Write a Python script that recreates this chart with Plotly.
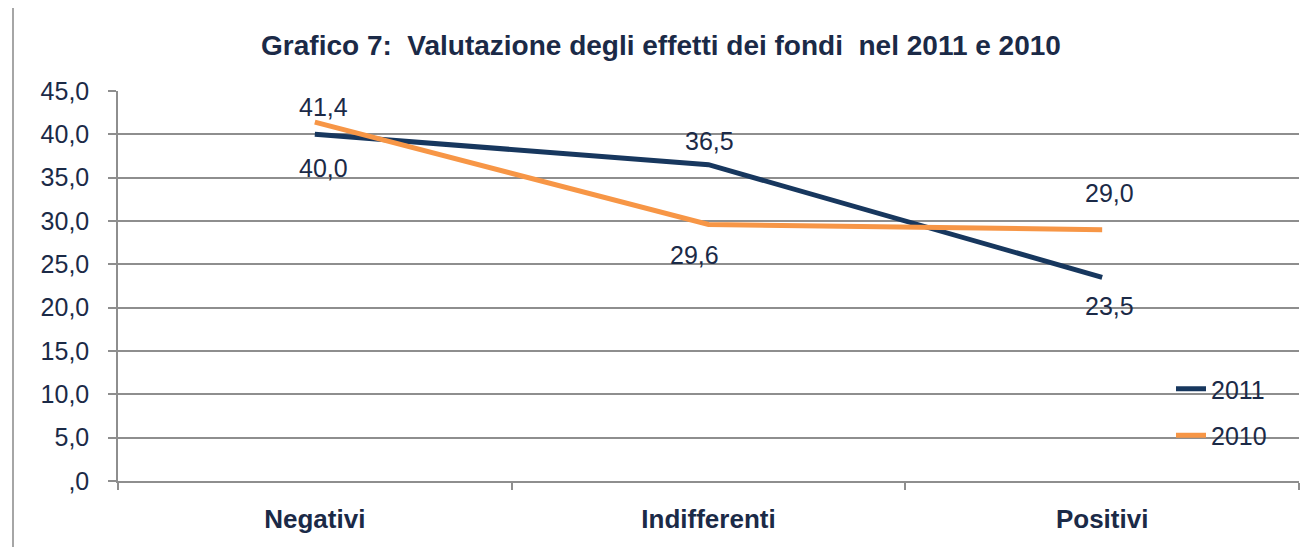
import plotly.graph_objects as go

# ---- data ----
CATEGORIES = ["Negativi", "Indifferenti", "Positivi"]
SERIES_NAMES = ["2011", "2010"]
VALUES_2011 = [40.0, 36.5, 23.5]
VALUES_2010 = [41.4, 29.6, 29.0]
Y_TICK_VALUES = [0, 5, 10, 15, 20, 25, 30, 35, 40, 45]
Y_TICK_LABELS = [",0", "5,0", "10,0", "15,0", "20,0", "25,0", "30,0", "35,0", "40,0", "45,0"]
TITLE = "Grafico 7:  Valutazione degli effetti dei fondi  nel 2011 e 2010"

# ---- style ----
NAVY = "#17375E"
ORANGE = "#F79646"
TEXT = "#1B2A47"
GRID = "#8E8E8E"
FONT = "Liberation Sans, Arial, sans-serif"
FS = 25

# label offsets (px) per series/point
SHIFT_2011 = [(9, -34), (1, 24), (7, -29)]
SHIFT_2010 = [(9, 15), (-14, -31), (7, 37)]

OFF = 8  # page body margin


def fmt(v):
    return f"{v:.1f}".replace(".", ",")


fig = go.Figure()
fig.add_trace(go.Scatter(
    x=CATEGORIES, y=VALUES_2011, name=SERIES_NAMES[0], mode="lines",
    line=dict(color=NAVY, width=5), legendgroup="a",
))
fig.add_trace(go.Scatter(
    x=CATEGORIES, y=VALUES_2010, name=SERIES_NAMES[1], mode="lines",
    line=dict(color=ORANGE, width=5), legendgroup="b",
))

annotations = []
for vals, shifts in ((VALUES_2011, SHIFT_2011), (VALUES_2010, SHIFT_2010)):
    for c, v, (dx, dy) in zip(CATEGORIES, vals, shifts):
        annotations.append(dict(
            x=c, y=v, xref="x", yref="y", text=fmt(v), showarrow=False,
            xshift=dx, yshift=dy, font=dict(family=FONT, size=FS, color=TEXT),
            xanchor="center", yanchor="middle",
        ))

W, H = 1312 - OFF, 547 - OFF
L, R, T, B = 118 - OFF, 13, 91 - OFF, 66
pw, ph = W - L - R, H - T - B


def px_x(x):
    return (x - OFF - L) / pw


def px_y(y):
    return (H - B - (y - OFF)) / ph


fig.update_layout(
    width=W, height=H,
    margin=dict(l=L, r=R, t=T, b=B, autoexpand=False),
    paper_bgcolor="white", plot_bgcolor="white",
    font=dict(family=FONT, size=FS, color=TEXT),
    title=dict(
        text=TITLE, x=(661 - OFF) / W, xref="container", xanchor="center",
        y=1 - (45 - OFF) / H, yref="container", yanchor="middle",
        font=dict(family=FONT, size=28, color=TEXT, weight="bold"),
    ),
    showlegend=True,
    legend=dict(
        x=px_x(1171), xanchor="left", y=px_y(366), yanchor="top",
        bgcolor="rgba(0,0,0,0)", font=dict(family=FONT, size=FS, color=TEXT),
        traceorder="grouped", tracegroupgap=11, itemwidth=30,
    ),
    annotations=annotations,
    shapes=[
        dict(type="line", xref="paper", yref="paper",
             x0=px_x(13), x1=px_x(13), y0=-0.5, y1=1.5,
             line=dict(color="#A6A6A6", width=2)),
    ],
)

fig.update_xaxes(
    type="category", range=[-0.5, 2.5], tickson="boundaries",
    showgrid=False, showline=True, linecolor=GRID, linewidth=1.5,
    ticks="outside", ticklen=7, tickcolor=GRID, tickwidth=1.5,
    tickfont=dict(family=FONT, size=26, color=TEXT, weight="bold"),
    ticklabelstandoff=14, zeroline=False,
)
fig.update_yaxes(
    range=[0, 45], tickvals=Y_TICK_VALUES, ticktext=Y_TICK_LABELS,
    showgrid=True, gridcolor=GRID, gridwidth=1.5,
    showline=True, linecolor=GRID, linewidth=1.5,
    ticks="outside", ticklen=8, tickcolor=GRID, tickwidth=1.5,
    tickfont=dict(family=FONT, size=FS, color=TEXT),
    ticklabelstandoff=14, zeroline=False,
)

fig.write_html("out.html")
